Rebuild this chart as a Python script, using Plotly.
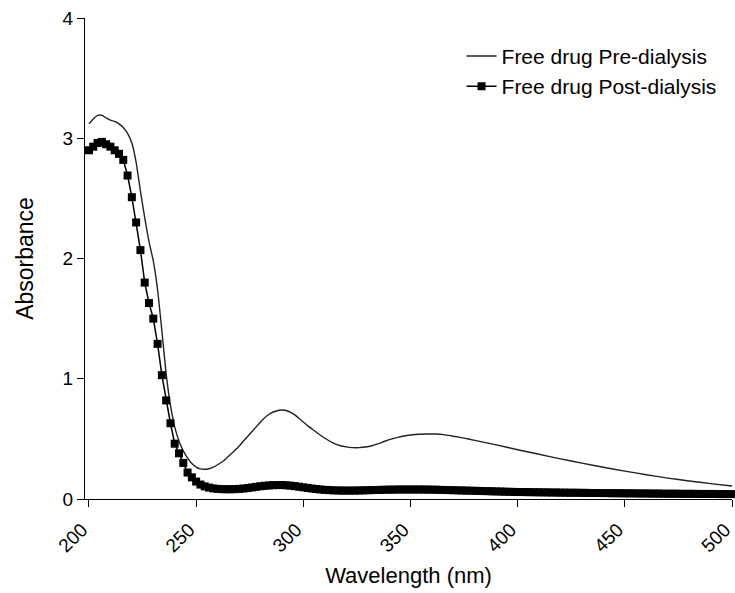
import plotly.graph_objects as go

# Pre-dialysis (thin line)
pre_wl = [200, 202, 204, 206, 208, 210, 212, 214, 216, 218, 220, 222, 224, 226, 228,
          230, 232, 234, 236, 238, 240, 242, 244, 246, 248, 250, 252, 254, 256, 258,
          260, 263, 266, 269, 272, 275, 278, 281, 284, 287, 290, 293, 296, 299, 302,
          305, 308, 311, 314, 317, 320, 323, 326, 329, 332, 335, 338, 341, 344, 347,
          350, 354, 358, 362, 366, 370, 375, 380, 390, 400, 410, 420, 430, 440, 450,
          460, 470, 480, 490, 500]
pre_abs = [3.12, 3.16, 3.19, 3.19, 3.17, 3.15, 3.14, 3.12, 3.09, 3.04, 2.96, 2.80, 2.56, 2.34, 2.14,
           1.98, 1.74, 1.40, 1.04, 0.78, 0.60, 0.48, 0.40, 0.34, 0.295, 0.265, 0.25, 0.247, 0.252, 0.265,
           0.285, 0.32, 0.37, 0.42, 0.48, 0.54, 0.60, 0.66, 0.705, 0.73, 0.74, 0.73, 0.70, 0.655, 0.61,
           0.57, 0.53, 0.495, 0.465, 0.445, 0.433, 0.427, 0.427, 0.432, 0.443, 0.46, 0.48, 0.498, 0.512, 0.524,
           0.532, 0.539, 0.541, 0.54, 0.533, 0.522, 0.506, 0.488, 0.45, 0.41, 0.372, 0.334, 0.298, 0.264, 0.232,
           0.202, 0.174, 0.150, 0.128, 0.108]

# Post-dialysis (square markers every 2 nm)
post_wl = list(range(200, 501, 2))
post_abs = [
    2.90, 2.93, 2.96, 2.97, 2.95, 2.93, 2.90, 2.87, 2.82, 2.69,   # 200-218
    2.51, 2.30, 2.07, 1.80, 1.63, 1.50, 1.29, 1.03, 0.82, 0.63,   # 220-238
    0.46, 0.38, 0.30, 0.22, 0.18, 0.145, 0.12, 0.105, 0.095, 0.088,  # 240-258
    0.084, 0.082, 0.081, 0.081, 0.082, 0.084, 0.087, 0.091, 0.096, 0.101,  # 260-278
    0.106, 0.110, 0.113, 0.115, 0.116, 0.116, 0.114, 0.111, 0.107, 0.102,  # 280-298
    0.097, 0.092, 0.087, 0.083, 0.079, 0.076, 0.074, 0.072, 0.071, 0.070,  # 300-318
    0.070, 0.070, 0.070, 0.071, 0.072, 0.073, 0.074, 0.075, 0.076, 0.077,  # 320-338
    0.078, 0.078, 0.079, 0.079, 0.079, 0.079, 0.079, 0.079, 0.079, 0.078,  # 340-358
    0.078, 0.077, 0.076, 0.075, 0.074, 0.073, 0.072, 0.071, 0.070, 0.069,  # 360-378
    0.068, 0.067, 0.066, 0.065, 0.064, 0.063, 0.062, 0.061, 0.060, 0.059,  # 380-398
    0.058, 0.058, 0.057, 0.057, 0.056, 0.056, 0.055, 0.055, 0.054, 0.054,  # 400-418
    0.053, 0.053, 0.052, 0.052, 0.052, 0.051, 0.051, 0.050, 0.050, 0.050,  # 420-438
    0.049, 0.049, 0.048, 0.048, 0.048, 0.047, 0.047, 0.047, 0.046, 0.046,  # 440-458
    0.046, 0.045, 0.045, 0.045, 0.044, 0.044, 0.044, 0.044, 0.043, 0.043,  # 460-478
    0.043, 0.043, 0.042, 0.042, 0.042, 0.042, 0.042, 0.041, 0.041, 0.041,  # 480-498
    0.041,  # 500
]

x_ticks = [200, 250, 300, 350, 400, 450, 500]
y_ticks = [0, 1, 2, 3, 4]

FONT = "Liberation Sans, Arial, sans-serif"

fig = go.Figure()
fig.add_trace(go.Scatter(
    x=pre_wl, y=pre_abs, mode="lines", name="Free drug Pre-dialysis",
    line=dict(color="#222222", width=1.4, shape="spline", smoothing=0.5),
    cliponaxis=False,
))
fig.add_trace(go.Scatter(
    x=post_wl, y=post_abs, mode="lines+markers", name="Free drug Post-dialysis",
    line=dict(color="#000000", width=1.5),
    marker=dict(symbol="square", size=8, color="#000000"),
    cliponaxis=False,
))

fig.update_layout(
    width=735, height=593,
    margin=dict(l=85, r=3, t=18, b=94),
    paper_bgcolor="white", plot_bgcolor="white",
    font=dict(family=FONT, color="#000000", size=20),
    showlegend=True,
    legend=dict(
        x=0.582, y=0.963, xanchor="left", yanchor="top",
        bgcolor="rgba(0,0,0,0)", font=dict(size=21, family=FONT),
        itemwidth=30, tracegroupgap=0,
    ),
)
fig.update_xaxes(
    range=[198.14, 500], tickvals=x_ticks, ticktext=[str(v) for v in x_ticks],
    tickangle=-45, ticks="outside", ticklen=7, tickwidth=1.3, tickcolor="#000",
    showline=True, linecolor="#000", linewidth=1.3, automargin=False,
    showgrid=False, zeroline=False, ticklabeloverflow="allow", ticklabelshift=-7,
    ticklabelstandoff=4,
    tickfont=dict(size=19, family=FONT),
    title=dict(text="Wavelength (nm)", font=dict(size=22, family=FONT), standoff=12),
)
fig.update_yaxes(
    range=[0, 4], tickvals=y_ticks,
    ticks="outside", ticklen=7, tickwidth=1.3, tickcolor="#000",
    showline=True, linecolor="#000", linewidth=1.3, automargin=False,
    showgrid=False, zeroline=False,
    tickfont=dict(size=19, family=FONT),
    title=dict(text="Absorbance", font=dict(size=23, family=FONT), standoff=22),
)

fig.write_html("out.html")
